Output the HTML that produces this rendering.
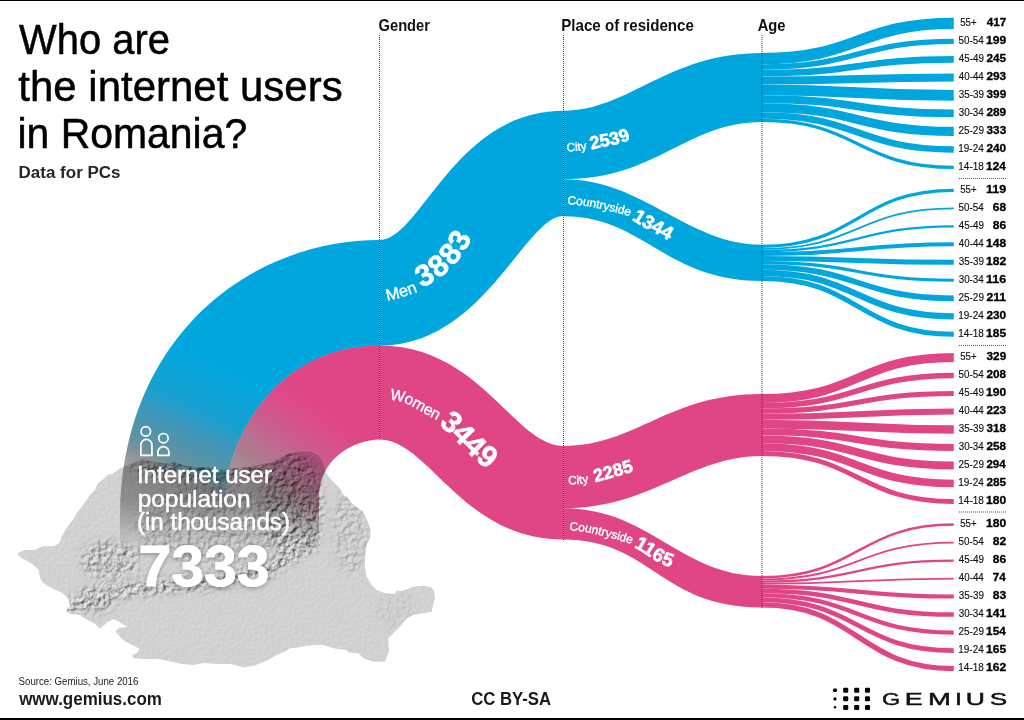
<!DOCTYPE html><html><head><meta charset="utf-8"><title>Who are the internet users in Romania?</title>
<style>html,body{margin:0;padding:0;background:#fff;}body{width:1024px;height:720px;overflow:hidden;}svg{display:block;} text{font-family:"Liberation Sans",Arial,sans-serif;}</style></head><body>
<svg width="1024" height="720" viewBox="0 0 1024 720">
<defs>
<linearGradient id="gb" gradientUnits="userSpaceOnUse" x1="330" y1="340" x2="230" y2="560"><stop offset="0.2800" stop-color="#00a7df"/><stop offset="0.4900" stop-color="#18a0d0"/><stop offset="0.5650" stop-color="#3a98be"/><stop offset="0.6400" stop-color="#4f94ad"/><stop offset="0.7200" stop-color="#66929f"/><stop offset="0.7600" stop-color="#8a9398"/><stop offset="0.8200" stop-color="#a0a0a0"/><stop offset="1.0000" stop-color="#b0b0b0"/></linearGradient>
<linearGradient id="gp" gradientUnits="userSpaceOnUse" x1="360" y1="360" x2="246" y2="524"><stop offset="0.3000" stop-color="#e04586"/><stop offset="0.4250" stop-color="#d9508a"/><stop offset="0.5400" stop-color="#c8608f"/><stop offset="0.6250" stop-color="#b87090"/><stop offset="0.7250" stop-color="#a8808e"/><stop offset="0.8500" stop-color="#a29ca0"/><stop offset="1.0000" stop-color="#ababab"/></linearGradient>
<linearGradient id="gfade" gradientUnits="userSpaceOnUse" x1="0" y1="500" x2="0" y2="553"><stop offset="0" stop-color="#fff"/><stop offset="0.45" stop-color="#999"/><stop offset="0.85" stop-color="#1a1a1a"/><stop offset="1" stop-color="#000"/></linearGradient>
<mask id="mfade" maskUnits="userSpaceOnUse" x="0" y="200" width="500" height="400"><rect x="0" y="200" width="500" height="400" fill="url(#gfade)"/></mask>
<clipPath id="mapclip"><path d="M17.5,554.5 L18.8,552.5 L25.0,550.0 L35.0,550.0 L42.5,546.2 L53.8,546.2 L60.0,542.5 L61.2,537.5 L63.8,532.5 L68.8,525.0 L73.8,518.8 L76.2,513.8 L81.2,507.5 L85.0,502.5 L90.0,495.0 L95.0,490.0 L97.5,483.8 L103.8,478.8 L107.5,475.0 L112.5,473.8 L120.7,467.9 L131.5,463.6 L142.2,459.3 L153.0,461.5 L163.7,463.6 L174.4,462.6 L185.2,465.8 L195.9,466.9 L206.7,466.9 L217.4,470.1 L228.2,469.0 L238.9,467.9 L249.6,466.9 L260.4,464.7 L271.1,462.6 L281.9,457.2 L288.3,454.0 L299.0,451.8 L309.8,451.8 L318.4,455.0 L322.7,461.5 L326.1,473.0 L330.7,479.2 L335.3,483.7 L339.8,488.3 L342.9,494.4 L347.5,497.5 L352.0,503.6 L358.2,508.2 L362.7,511.2 L365.8,517.3 L368.9,525.0 L370.4,531.1 L370.4,537.2 L367.3,543.3 L365.8,549.4 L365.0,558.5 L365.0,567.7 L366.7,576.7 L371.7,585.0 L376.7,590.0 L385.0,593.3 L395.0,594.2 L396.7,590.8 L403.3,590.8 L413.3,586.7 L423.3,585.8 L431.7,587.5 L434.2,591.7 L435.0,598.3 L433.3,603.3 L431.7,611.7 L423.3,613.3 L413.3,615.0 L406.7,618.3 L400.0,626.7 L393.3,633.3 L388.3,638.3 L388.3,643.3 L389.2,650.8 L386.7,656.7 L385.0,661.7 L373.3,661.7 L363.3,658.3 L358.3,653.3 L348.3,652.5 L346.7,650.0 L340.0,649.2 L333.3,648.3 L323.3,645.0 L315.0,645.0 L306.7,645.8 L298.3,647.5 L290.0,648.3 L285.5,651.3 L275.8,655.2 L268.0,660.0 L256.2,665.0 L244.5,667.5 L230.9,664.0 L217.2,664.0 L203.5,663.0 L193.8,665.0 L182.0,664.0 L168.4,661.0 L158.6,659.1 L144.9,659.1 L133.2,658.1 L132.2,655.2 L138.1,652.3 L139.0,648.4 L133.2,645.4 L125.4,641.5 L119.5,636.6 L115.6,631.8 L118.6,627.9 L127.3,626.9 L119.5,622.0 L113.7,619.0 L107.8,622.0 L100.0,628.8 L95.0,623.8 L87.5,620.0 L80.0,615.0 L70.0,613.8 L66.2,611.2 L70.0,606.2 L68.8,600.0 L65.0,595.0 L58.8,591.2 L50.0,587.5 L42.5,582.5 L40.0,577.5 L38.8,570.0 L35.0,566.2 L30.0,562.5 L22.5,558.8 Z"/></clipPath>
<filter id="fPlain" x="0" y="0" width="1" height="1" color-interpolation-filters="sRGB"><feTurbulence type="fractalNoise" baseFrequency="0.3" numOctaves="2" seed="7"/><feDiffuseLighting surfaceScale="0.13" diffuseConstant="1" lighting-color="#f2f2f2"><feDistantLight azimuth="225" elevation="60"/></feDiffuseLighting></filter>
<filter id="fMtn" x="0" y="0" width="1" height="1" color-interpolation-filters="sRGB"><feTurbulence type="fractalNoise" baseFrequency="0.2" numOctaves="4" seed="11"/><feDiffuseLighting surfaceScale="2.4" diffuseConstant="1" lighting-color="#efefef"><feDistantLight azimuth="225" elevation="55"/></feDiffuseLighting></filter>
<filter id="fBlur" x="-0.5" y="-0.5" width="2" height="2"><feGaussianBlur stdDeviation="4"/></filter>
<mask id="mtnMask" maskUnits="userSpaceOnUse" x="0" y="400" width="460" height="300"><g filter="url(#fBlur)" fill="#fff"><path d="M60,618 L80,609 L105,601 L130,596 L160,593 L200,590 L240,585 L270,577 L295,562 L318,548 L318,532 L292,548 L265,563 L238,572 L200,577 L160,580 L130,583 L100,588 L75,597 L55,608 Z"/><ellipse cx="95" cy="600" rx="20" ry="13" opacity="0.8"/><ellipse cx="110" cy="560" rx="30" ry="20" opacity="0.7"/><ellipse cx="292" cy="505" rx="30" ry="55"/><ellipse cx="200" cy="470" rx="70" ry="12"/><ellipse cx="210" cy="525" rx="75" ry="40" opacity="0.45"/><ellipse cx="350" cy="530" rx="18" ry="45" opacity="0.35"/><ellipse cx="395" cy="610" rx="20" ry="20" opacity="0.15"/></g></mask>
</defs>
<rect x="0" y="0" width="1024" height="1" fill="#000"/>
<rect x="0" y="718" width="1024" height="2" fill="#000"/>
<g clip-path="url(#mapclip)">
<rect x="0" y="440" width="450" height="240" filter="url(#fPlain)"/>
<rect x="0" y="440" width="450" height="240" filter="url(#fMtn)" mask="url(#mtnMask)"/>
</g>
<path d="M379.5,240 C248.9,240 120,338.6 120,519.6 L120,560 L225.9,560 L225.9,498.5 C225.9,439.1 276.1,345.6 379.5,345.6 Z" fill="url(#gb)" mask="url(#mfade)" style="mix-blend-mode:multiply"/>
<path d="M379.5,345.6 C276.1,345.6 225.9,439.1 225.9,498.5 L225.9,560 L319,560 L319,499.3 C319,452 362.2,439.4 379.5,439.4 Z" fill="url(#gp)" mask="url(#mfade)" style="mix-blend-mode:multiply"/>
<path d="M379.50,240.00 C420.58,240.00 454.40,110.70 563.50,110.70 L563.50,215.90 C524.91,215.90 483.89,345.60 379.50,345.60 Z" fill="#00a7df"/>
<path d="M379.50,345.60 C480.39,345.60 514.32,446.00 563.50,446.00 L563.50,539.60 C461.69,539.60 428.98,439.40 379.50,439.40 Z" fill="#e04586"/>
<path d="M563.50,110.70 C629.06,110.70 666.96,53.00 762.00,53.00 L762.00,122.10 C686.19,122.10 657.21,179.30 563.50,179.30 Z" fill="#00a7df"/>
<path d="M563.50,179.30 C643.39,179.30 687.23,244.75 762.00,244.75 L762.00,281.00 C664.55,281.00 644.13,216.30 563.50,216.30 Z" fill="#00a7df"/>
<path d="M563.50,446.00 C636.39,446.00 667.10,394.10 762.00,394.10 L762.00,455.90 C689.96,455.90 650.48,508.20 563.50,508.20 Z" fill="#e04586"/>
<path d="M563.50,508.20 C649.52,508.20 680.56,576.00 762.00,576.00 L762.00,607.60 C660.45,607.60 650.82,539.60 563.50,539.60 Z" fill="#e04586"/>
<path d="M762.00,58.67 C857.88,58.67 857.88,23.40 953.75,23.40" fill="none" stroke="#00a7df" stroke-width="11.35"/>
<path d="M762.00,67.06 C857.88,67.06 857.88,41.40 953.75,41.40" fill="none" stroke="#00a7df" stroke-width="5.42"/>
<path d="M762.00,73.10 C857.88,73.10 857.88,59.40 953.75,59.40" fill="none" stroke="#00a7df" stroke-width="6.67"/>
<path d="M762.00,80.42 C857.88,80.42 857.88,77.40 953.75,77.40" fill="none" stroke="#00a7df" stroke-width="7.97"/>
<path d="M762.00,89.84 C857.88,89.84 857.88,95.40 953.75,95.40" fill="none" stroke="#00a7df" stroke-width="10.86"/>
<path d="M762.00,99.20 C857.88,99.20 857.88,113.40 953.75,113.40" fill="none" stroke="#00a7df" stroke-width="7.87"/>
<path d="M762.00,107.66 C857.88,107.66 857.88,131.40 953.75,131.40" fill="none" stroke="#00a7df" stroke-width="9.06"/>
<path d="M762.00,115.46 C857.88,115.46 857.88,149.40 953.75,149.40" fill="none" stroke="#00a7df" stroke-width="6.53"/>
<path d="M762.00,120.41 C857.88,120.41 857.88,167.40 953.75,167.40" fill="none" stroke="#00a7df" stroke-width="3.37"/>
<path d="M762.00,246.35 C857.88,246.35 857.88,190.30 953.75,190.30" fill="none" stroke="#00a7df" stroke-width="3.21"/>
<path d="M762.00,248.87 C857.88,248.87 857.88,208.30 953.75,208.30" fill="none" stroke="#00a7df" stroke-width="1.83"/>
<path d="M762.00,250.95 C857.88,250.95 857.88,226.30 953.75,226.30" fill="none" stroke="#00a7df" stroke-width="2.32"/>
<path d="M762.00,254.10 C857.88,254.10 857.88,244.30 953.75,244.30" fill="none" stroke="#00a7df" stroke-width="3.99"/>
<path d="M762.00,258.55 C857.88,258.55 857.88,262.30 953.75,262.30" fill="none" stroke="#00a7df" stroke-width="4.91"/>
<path d="M762.00,262.57 C857.88,262.57 857.88,280.30 953.75,280.30" fill="none" stroke="#00a7df" stroke-width="3.13"/>
<path d="M762.00,266.97 C857.88,266.97 857.88,298.30 953.75,298.30" fill="none" stroke="#00a7df" stroke-width="5.69"/>
<path d="M762.00,272.91 C857.88,272.91 857.88,316.30 953.75,316.30" fill="none" stroke="#00a7df" stroke-width="6.20"/>
<path d="M762.00,278.51 C857.88,278.51 857.88,334.30 953.75,334.30" fill="none" stroke="#00a7df" stroke-width="4.99"/>
<path d="M762.00,398.55 C857.88,398.55 857.88,357.50 953.75,357.50" fill="none" stroke="#e04586" stroke-width="8.90"/>
<path d="M762.00,405.81 C857.88,405.81 857.88,375.50 953.75,375.50" fill="none" stroke="#e04586" stroke-width="5.63"/>
<path d="M762.00,411.19 C857.88,411.19 857.88,393.50 953.75,393.50" fill="none" stroke="#e04586" stroke-width="5.14"/>
<path d="M762.00,416.78 C857.88,416.78 857.88,411.50 953.75,411.50" fill="none" stroke="#e04586" stroke-width="6.03"/>
<path d="M762.00,424.09 C857.88,424.09 857.88,429.50 953.75,429.50" fill="none" stroke="#e04586" stroke-width="8.60"/>
<path d="M762.00,431.88 C857.88,431.88 857.88,447.50 953.75,447.50" fill="none" stroke="#e04586" stroke-width="6.98"/>
<path d="M762.00,439.35 C857.88,439.35 857.88,465.50 953.75,465.50" fill="none" stroke="#e04586" stroke-width="7.95"/>
<path d="M762.00,447.18 C857.88,447.18 857.88,483.50 953.75,483.50" fill="none" stroke="#e04586" stroke-width="7.71"/>
<path d="M762.00,453.47 C857.88,453.47 857.88,501.50 953.75,501.50" fill="none" stroke="#e04586" stroke-width="4.87"/>
<path d="M762.00,577.26 C857.88,577.26 857.88,524.60 953.75,524.60" fill="none" stroke="#e04586" stroke-width="2.52"/>
<path d="M762.00,579.48 C857.88,579.48 857.88,542.60 953.75,542.60" fill="none" stroke="#e04586" stroke-width="1.92"/>
<path d="M762.00,581.58 C857.88,581.58 857.88,560.60 953.75,560.60" fill="none" stroke="#e04586" stroke-width="2.27"/>
<path d="M762.00,583.67 C857.88,583.67 857.88,578.60 953.75,578.60" fill="none" stroke="#e04586" stroke-width="1.92"/>
<path d="M762.00,586.65 C857.88,586.65 857.88,596.60 953.75,596.60" fill="none" stroke="#e04586" stroke-width="4.04"/>
<path d="M762.00,590.94 C857.88,590.94 857.88,614.60 953.75,614.60" fill="none" stroke="#e04586" stroke-width="4.54"/>
<path d="M762.00,595.36 C857.88,595.36 857.88,632.60 953.75,632.60" fill="none" stroke="#e04586" stroke-width="4.29"/>
<path d="M762.00,599.90 C857.88,599.90 857.88,650.60 953.75,650.60" fill="none" stroke="#e04586" stroke-width="4.80"/>
<path d="M762.00,604.95 C857.88,604.95 857.88,668.60 953.75,668.60" fill="none" stroke="#e04586" stroke-width="5.30"/>
<line x1="379.5" y1="35" x2="379.5" y2="439.4" stroke="#3a3a3a" stroke-width="1" stroke-dasharray="1 1"/>
<line x1="563.5" y1="35" x2="563.5" y2="540" stroke="#3a3a3a" stroke-width="1" stroke-dasharray="1 1"/>
<line x1="762.0" y1="35" x2="762.0" y2="608" stroke="#3a3a3a" stroke-width="1" stroke-dasharray="1 1"/>
<line x1="959" y1="178.5" x2="1006" y2="178.5" stroke="#555" stroke-width="1" stroke-dasharray="1 1"/>
<line x1="959" y1="345.5" x2="1006" y2="345.5" stroke="#555" stroke-width="1" stroke-dasharray="1 1"/>
<line x1="959" y1="512.0" x2="1006" y2="512.0" stroke="#555" stroke-width="1" stroke-dasharray="1 1"/>
<text transform="translate(378.61,30.60) scale(0.8831,1)" font-size="16.60" font-weight="bold" fill="#111" >Gender</text>
<text transform="translate(561.29,30.70) scale(0.9214,1)" font-size="16.40" font-weight="bold" fill="#111" >Place of residence</text>
<text transform="translate(757.71,30.70) scale(0.8966,1)" font-size="16.40" font-weight="bold" fill="#111" >Age</text>
<text transform="translate(19.10,54.00) scale(0.9218,1)" font-size="43.30" fill="#000" stroke="#000" stroke-width="0.5">Who are</text>
<text transform="translate(18.28,100.60) scale(0.9699,1)" font-size="43.30" fill="#000" stroke="#000" stroke-width="0.5">the internet users</text>
<text transform="translate(17.44,147.90) scale(0.9454,1)" font-size="43.30" fill="#000" stroke="#000" stroke-width="0.5">in Romania?</text>
<text transform="translate(18.58,177.60) scale(1.0367,1)" font-size="16.40" font-weight="bold" fill="#262626" >Data for PCs</text>
<text transform="translate(960.21,25.70) scale(0.9394,1)" font-size="10.30" fill="#111" stroke="#111" stroke-width="0.15">55+</text>
<text transform="translate(986.68,25.70) scale(1.1049,1)" font-size="10.60" font-weight="bold" fill="#000" stroke="#000" stroke-width="0.3">417</text>
<text transform="translate(958.61,43.70) scale(0.9547,1)" font-size="10.30" fill="#111" stroke="#111" stroke-width="0.15">50-54</text>
<text transform="translate(986.07,43.70) scale(1.1400,1)" font-size="10.60" font-weight="bold" fill="#000" stroke="#000" stroke-width="0.3">199</text>
<text transform="translate(958.80,61.70) scale(0.9547,1)" font-size="10.30" fill="#111" stroke="#111" stroke-width="0.15">45-49</text>
<text transform="translate(986.45,61.70) scale(1.1117,1)" font-size="10.60" font-weight="bold" fill="#000" stroke="#000" stroke-width="0.3">245</text>
<text transform="translate(958.80,79.70) scale(0.9471,1)" font-size="10.30" fill="#111" stroke="#111" stroke-width="0.15">40-44</text>
<text transform="translate(986.44,79.70) scale(1.1187,1)" font-size="10.60" font-weight="bold" fill="#000" stroke="#000" stroke-width="0.3">293</text>
<text transform="translate(958.70,97.70) scale(0.9586,1)" font-size="10.30" fill="#111" stroke="#111" stroke-width="0.15">35-39</text>
<text transform="translate(986.56,97.70) scale(1.1117,1)" font-size="10.60" font-weight="bold" fill="#000" stroke="#000" stroke-width="0.3">399</text>
<text transform="translate(958.71,115.70) scale(0.9509,1)" font-size="10.30" fill="#111" stroke="#111" stroke-width="0.15">30-34</text>
<text transform="translate(986.44,115.70) scale(1.1187,1)" font-size="10.60" font-weight="bold" fill="#000" stroke="#000" stroke-width="0.3">289</text>
<text transform="translate(958.50,133.70) scale(0.9664,1)" font-size="10.30" fill="#111" stroke="#111" stroke-width="0.15">25-29</text>
<text transform="translate(986.56,133.70) scale(1.1117,1)" font-size="10.60" font-weight="bold" fill="#000" stroke="#000" stroke-width="0.3">333</text>
<text transform="translate(958.30,151.70) scale(0.9664,1)" font-size="10.30" fill="#111" stroke="#111" stroke-width="0.15">19-24</text>
<text transform="translate(986.44,151.70) scale(1.1187,1)" font-size="10.60" font-weight="bold" fill="#000" stroke="#000" stroke-width="0.3">240</text>
<text transform="translate(958.30,169.70) scale(0.9703,1)" font-size="10.30" fill="#111" stroke="#111" stroke-width="0.15">14-18</text>
<text transform="translate(986.09,169.70) scale(1.1117,1)" font-size="10.60" font-weight="bold" fill="#000" stroke="#000" stroke-width="0.3">124</text>
<text transform="translate(960.21,192.60) scale(0.9394,1)" font-size="10.30" fill="#111" stroke="#111" stroke-width="0.15">55+</text>
<text transform="translate(986.05,192.60) scale(1.1815,1)" font-size="10.60" font-weight="bold" fill="#000" stroke="#000" stroke-width="0.3">119</text>
<text transform="translate(958.61,210.60) scale(0.9547,1)" font-size="10.30" fill="#111" stroke="#111" stroke-width="0.15">50-54</text>
<text transform="translate(992.84,210.60) scale(1.1255,1)" font-size="10.60" font-weight="bold" fill="#000" stroke="#000" stroke-width="0.3">68</text>
<text transform="translate(958.80,228.60) scale(0.9547,1)" font-size="10.30" fill="#111" stroke="#111" stroke-width="0.15">45-49</text>
<text transform="translate(992.84,228.60) scale(1.1362,1)" font-size="10.60" font-weight="bold" fill="#000" stroke="#000" stroke-width="0.3">86</text>
<text transform="translate(958.80,246.60) scale(0.9471,1)" font-size="10.30" fill="#111" stroke="#111" stroke-width="0.15">40-44</text>
<text transform="translate(986.08,246.60) scale(1.1328,1)" font-size="10.60" font-weight="bold" fill="#000" stroke="#000" stroke-width="0.3">148</text>
<text transform="translate(958.70,264.60) scale(0.9586,1)" font-size="10.30" fill="#111" stroke="#111" stroke-width="0.15">35-39</text>
<text transform="translate(986.07,264.60) scale(1.1400,1)" font-size="10.60" font-weight="bold" fill="#000" stroke="#000" stroke-width="0.3">182</text>
<text transform="translate(958.71,282.60) scale(0.9509,1)" font-size="10.30" fill="#111" stroke="#111" stroke-width="0.15">30-34</text>
<text transform="translate(986.05,282.60) scale(1.1815,1)" font-size="10.60" font-weight="bold" fill="#000" stroke="#000" stroke-width="0.3">116</text>
<text transform="translate(958.50,300.60) scale(0.9664,1)" font-size="10.30" fill="#111" stroke="#111" stroke-width="0.15">25-29</text>
<text transform="translate(986.43,300.60) scale(1.1511,1)" font-size="10.60" font-weight="bold" fill="#000" stroke="#000" stroke-width="0.3">211</text>
<text transform="translate(958.30,318.60) scale(0.9664,1)" font-size="10.30" fill="#111" stroke="#111" stroke-width="0.15">19-24</text>
<text transform="translate(986.44,318.60) scale(1.1187,1)" font-size="10.60" font-weight="bold" fill="#000" stroke="#000" stroke-width="0.3">230</text>
<text transform="translate(958.30,336.60) scale(0.9703,1)" font-size="10.30" fill="#111" stroke="#111" stroke-width="0.15">14-18</text>
<text transform="translate(986.08,336.60) scale(1.1328,1)" font-size="10.60" font-weight="bold" fill="#000" stroke="#000" stroke-width="0.3">185</text>
<text transform="translate(960.21,359.80) scale(0.9394,1)" font-size="10.30" fill="#111" stroke="#111" stroke-width="0.15">55+</text>
<text transform="translate(986.56,359.80) scale(1.1117,1)" font-size="10.60" font-weight="bold" fill="#000" stroke="#000" stroke-width="0.3">329</text>
<text transform="translate(958.61,377.80) scale(0.9547,1)" font-size="10.30" fill="#111" stroke="#111" stroke-width="0.15">50-54</text>
<text transform="translate(986.45,377.80) scale(1.1117,1)" font-size="10.60" font-weight="bold" fill="#000" stroke="#000" stroke-width="0.3">208</text>
<text transform="translate(958.80,395.80) scale(0.9547,1)" font-size="10.30" fill="#111" stroke="#111" stroke-width="0.15">45-49</text>
<text transform="translate(986.07,395.80) scale(1.1400,1)" font-size="10.60" font-weight="bold" fill="#000" stroke="#000" stroke-width="0.3">190</text>
<text transform="translate(958.80,413.80) scale(0.9471,1)" font-size="10.30" fill="#111" stroke="#111" stroke-width="0.15">40-44</text>
<text transform="translate(986.44,413.80) scale(1.1187,1)" font-size="10.60" font-weight="bold" fill="#000" stroke="#000" stroke-width="0.3">223</text>
<text transform="translate(958.70,431.80) scale(0.9586,1)" font-size="10.30" fill="#111" stroke="#111" stroke-width="0.15">35-39</text>
<text transform="translate(986.57,431.80) scale(1.1049,1)" font-size="10.60" font-weight="bold" fill="#000" stroke="#000" stroke-width="0.3">318</text>
<text transform="translate(958.71,449.80) scale(0.9509,1)" font-size="10.30" fill="#111" stroke="#111" stroke-width="0.15">30-34</text>
<text transform="translate(986.45,449.80) scale(1.1117,1)" font-size="10.60" font-weight="bold" fill="#000" stroke="#000" stroke-width="0.3">258</text>
<text transform="translate(958.50,467.80) scale(0.9664,1)" font-size="10.30" fill="#111" stroke="#111" stroke-width="0.15">25-29</text>
<text transform="translate(986.45,467.80) scale(1.0914,1)" font-size="10.60" font-weight="bold" fill="#000" stroke="#000" stroke-width="0.3">294</text>
<text transform="translate(958.30,485.80) scale(0.9664,1)" font-size="10.30" fill="#111" stroke="#111" stroke-width="0.15">19-24</text>
<text transform="translate(986.45,485.80) scale(1.1117,1)" font-size="10.60" font-weight="bold" fill="#000" stroke="#000" stroke-width="0.3">285</text>
<text transform="translate(958.30,503.80) scale(0.9703,1)" font-size="10.30" fill="#111" stroke="#111" stroke-width="0.15">14-18</text>
<text transform="translate(986.07,503.80) scale(1.1400,1)" font-size="10.60" font-weight="bold" fill="#000" stroke="#000" stroke-width="0.3">180</text>
<text transform="translate(960.21,526.90) scale(0.9394,1)" font-size="10.30" fill="#111" stroke="#111" stroke-width="0.15">55+</text>
<text transform="translate(986.07,526.90) scale(1.1400,1)" font-size="10.60" font-weight="bold" fill="#000" stroke="#000" stroke-width="0.3">180</text>
<text transform="translate(958.61,544.90) scale(0.9547,1)" font-size="10.30" fill="#111" stroke="#111" stroke-width="0.15">50-54</text>
<text transform="translate(992.84,544.90) scale(1.1362,1)" font-size="10.60" font-weight="bold" fill="#000" stroke="#000" stroke-width="0.3">82</text>
<text transform="translate(958.80,562.90) scale(0.9547,1)" font-size="10.30" fill="#111" stroke="#111" stroke-width="0.15">45-49</text>
<text transform="translate(992.84,562.90) scale(1.1362,1)" font-size="10.60" font-weight="bold" fill="#000" stroke="#000" stroke-width="0.3">86</text>
<text transform="translate(958.80,580.90) scale(0.9471,1)" font-size="10.30" fill="#111" stroke="#111" stroke-width="0.15">40-44</text>
<text transform="translate(992.73,580.90) scale(1.1046,1)" font-size="10.60" font-weight="bold" fill="#000" stroke="#000" stroke-width="0.3">74</text>
<text transform="translate(958.70,598.90) scale(0.9586,1)" font-size="10.30" fill="#111" stroke="#111" stroke-width="0.15">35-39</text>
<text transform="translate(992.84,598.90) scale(1.1362,1)" font-size="10.60" font-weight="bold" fill="#000" stroke="#000" stroke-width="0.3">83</text>
<text transform="translate(958.71,616.90) scale(0.9509,1)" font-size="10.30" fill="#111" stroke="#111" stroke-width="0.15">30-34</text>
<text transform="translate(986.08,616.90) scale(1.1328,1)" font-size="10.60" font-weight="bold" fill="#000" stroke="#000" stroke-width="0.3">141</text>
<text transform="translate(958.50,634.90) scale(0.9664,1)" font-size="10.30" fill="#111" stroke="#111" stroke-width="0.15">25-29</text>
<text transform="translate(986.09,634.90) scale(1.1117,1)" font-size="10.60" font-weight="bold" fill="#000" stroke="#000" stroke-width="0.3">154</text>
<text transform="translate(958.30,652.90) scale(0.9664,1)" font-size="10.30" fill="#111" stroke="#111" stroke-width="0.15">19-24</text>
<text transform="translate(986.08,652.90) scale(1.1328,1)" font-size="10.60" font-weight="bold" fill="#000" stroke="#000" stroke-width="0.3">165</text>
<text transform="translate(958.30,670.90) scale(0.9703,1)" font-size="10.30" fill="#111" stroke="#111" stroke-width="0.15">14-18</text>
<text transform="translate(986.07,670.90) scale(1.1400,1)" font-size="10.60" font-weight="bold" fill="#000" stroke="#000" stroke-width="0.3">162</text>
<text transform="translate(18.61,685.00) scale(0.9580,1)" font-size="10.10" fill="#222" >Source: Gemius, June 2016</text>
<text transform="translate(19.17,704.70) scale(0.9430,1)" font-size="18.00" font-weight="bold" fill="#1a1a1a" >www.gemius.com</text>
<text transform="translate(471.13,704.70) scale(0.9518,1)" font-size="17.60" font-weight="bold" fill="#1a1a1a" >CC BY-SA</text>
<rect x="833" y="688.6" width="4" height="3.4" rx="1.2" fill="#000"/>
<circle cx="835" cy="698.9" r="1.6" fill="#000"/>
<circle cx="835" cy="707.3" r="1.2" fill="#000"/>
<rect x="843.15" y="687.80" width="5.1" height="5" rx="1.2" fill="#000"/>
<rect x="843.15" y="696.30" width="5.1" height="5" rx="1.2" fill="#000"/>
<rect x="843.15" y="704.90" width="5.1" height="5" rx="1.2" fill="#000"/>
<rect x="854.15" y="687.80" width="5.1" height="5" rx="1.2" fill="#000"/>
<rect x="854.15" y="696.30" width="5.1" height="5" rx="1.2" fill="#000"/>
<rect x="854.15" y="704.90" width="5.1" height="5" rx="1.2" fill="#000"/>
<rect x="864.95" y="687.80" width="5.1" height="5" rx="1.2" fill="#000"/>
<rect x="864.95" y="696.30" width="5.1" height="5" rx="1.2" fill="#000"/>
<rect x="864.95" y="704.90" width="5.1" height="5" rx="1.2" fill="#000"/>
<text transform="translate(882.03,704.60) scale(1.4056,1)" font-size="16.60" fill="#111" stroke="#111" stroke-width="0.45">G</text>
<text transform="translate(904.85,704.60) scale(1.6210,1)" font-size="16.60" fill="#111" stroke="#111" stroke-width="0.45">E</text>
<text transform="translate(928.00,704.60) scale(1.6566,1)" font-size="16.60" fill="#111" stroke="#111" stroke-width="0.45">M</text>
<text transform="translate(955.05,704.60) scale(1.5060,1)" font-size="16.60" fill="#111" stroke="#111" stroke-width="0.45">I</text>
<text transform="translate(965.74,704.60) scale(1.5995,1)" font-size="16.60" fill="#111" stroke="#111" stroke-width="0.45">U</text>
<text transform="translate(989.76,704.60) scale(1.5724,1)" font-size="16.60" fill="#111" stroke="#111" stroke-width="0.45">S</text>
<text transform="translate(136.93,482.60) scale(1.0282,1)" font-size="23.40" fill="#fff" stroke="#fff" stroke-width="0.45">Internet user</text>
<text transform="translate(137.63,506.50) scale(1.0458,1)" font-size="23.40" fill="#fff" stroke="#fff" stroke-width="0.45">population</text>
<text transform="translate(136.95,530.40) scale(1.0323,1)" font-size="23.40" fill="#fff" stroke="#fff" stroke-width="0.45">(in thousands)</text>
<filter id="fsh" x="-0.2" y="-0.3" width="1.4" height="1.6"><feDropShadow dx="0" dy="1" stdDeviation="2.5" flood-color="#000" flood-opacity="0.35"/></filter>
<text transform="translate(138.54,585.80) scale(1.0230,1)" font-size="57.60" font-weight="bold" fill="#fff" filter="url(#fsh)" stroke="#fff" stroke-width="0.8">7333</text>
<g fill="none" stroke="#fff" stroke-width="1.7"><circle cx="145.8" cy="431.4" r="4.7"/><path d="M140.85,455.35 L140.85,445 A5.55,5.55 0 0 1 151.95,445 L151.95,455.35 Z"/><circle cx="163.45" cy="438.2" r="4.7"/><path d="M157.85,455.35 L157.85,452.2 A5.55,5.55 0 0 1 168.95,452.2 L168.95,455.35 Z"/></g>
<defs>
<path id="wMen" d="M383.51,301.54 L388.40,300.50 C398.43,298.37 408.23,295.46 417.80,291.75 L445.77,280.91"/>
<path id="nMen" d="M412.40,281.01 L424.20,274.80 C438.54,267.25 450.51,255.40 458.30,241.20 L472.73,214.90"/>
<path id="wWomen" d="M384.30,399.49 L389.30,399.70 C407.71,400.47 421.46,412.71 437.10,420.30 L464.09,433.39"/>
<path id="nWomen" d="M441.97,412.58 L451.70,421.70 C463.76,433.00 474.34,445.89 487.50,456.00 L511.29,474.28"/>
<path id="wMC" d="M562.11,150.77 L567.10,151.05 C573.79,151.43 580.39,150.94 586.90,149.60 L616.28,143.54"/>
<path id="nMC" d="M585.50,144.44 L595.20,142.00 C605.29,139.46 615.90,138.99 625.50,134.60 L652.78,122.12"/>
<path id="wMR" d="M562.71,204.06 L567.70,204.30 C588.94,205.30 609.00,210.62 629.40,216.00 L658.41,223.64"/>
<path id="nMR" d="M629.18,209.89 L637.80,215.50 C647.09,221.55 657.13,226.31 666.80,231.70 L693.00,246.31"/>
<path id="wWC" d="M563.90,484.27 L568.90,484.40 C575.36,484.57 581.73,483.97 588.00,482.60 L617.31,476.20"/>
<path id="nWC" d="M588.84,477.59 L598.50,475.00 C608.58,472.30 618.53,469.14 628.60,466.40 L657.55,458.52"/>
<path id="wWR" d="M564.80,530.08 L569.80,530.30 C591.05,531.24 611.13,537.94 631.40,543.90 L660.18,552.37"/>
<path id="nWR" d="M631.38,538.17 L640.40,543.10 C650.21,548.46 658.67,556.13 669.40,559.80 L697.79,569.51"/>
</defs>
<text fill="#fff" stroke="#fff" stroke-width="0.35" font-size="16.5" letter-spacing="0"><textPath href="#wMen" startOffset="3.70">Men</textPath></text>
<text fill="#fff" stroke="#fff" stroke-width="0.6" font-size="30" font-weight="bold" letter-spacing="0" dy="10.50"><textPath href="#nMen" startOffset="5">3883</textPath></text>
<text fill="#fff" stroke="#fff" stroke-width="0.35" font-size="15.6" letter-spacing="-0.2"><textPath href="#wWomen" startOffset="5.00">Women</textPath></text>
<text fill="#fff" stroke="#fff" stroke-width="0.6" font-size="30" font-weight="bold" letter-spacing="0" dy="10.50"><textPath href="#nWomen" startOffset="5">3449</textPath></text>
<text fill="#fff" stroke="#fff" stroke-width="0.35" font-size="12" letter-spacing="0"><textPath href="#wMC" startOffset="4.40">City</textPath></text>
<text fill="#fff" stroke="#fff" stroke-width="0.6" font-size="18" font-weight="bold" letter-spacing="0" dy="6.30"><textPath href="#nMC" startOffset="4.5">2539</textPath></text>
<text fill="#fff" stroke="#fff" stroke-width="0.35" font-size="12" letter-spacing="0"><textPath href="#wMR" startOffset="4.40">Countryside</textPath></text>
<text fill="#fff" stroke="#fff" stroke-width="0.6" font-size="19" font-weight="bold" letter-spacing="0" dy="6.65"><textPath href="#nMR" startOffset="7.0">1344</textPath></text>
<text fill="#fff" stroke="#fff" stroke-width="0.35" font-size="12" letter-spacing="0"><textPath href="#wWC" startOffset="4.40">City</textPath></text>
<text fill="#fff" stroke="#fff" stroke-width="0.6" font-size="18" font-weight="bold" letter-spacing="0" dy="6.30"><textPath href="#nWC" startOffset="5">2285</textPath></text>
<text fill="#fff" stroke="#fff" stroke-width="0.35" font-size="12" letter-spacing="0"><textPath href="#wWR" startOffset="4.40">Countryside</textPath></text>
<text fill="#fff" stroke="#fff" stroke-width="0.6" font-size="19" font-weight="bold" letter-spacing="0" dy="6.65"><textPath href="#nWR" startOffset="6.5">1165</textPath></text>
</svg></body></html>
